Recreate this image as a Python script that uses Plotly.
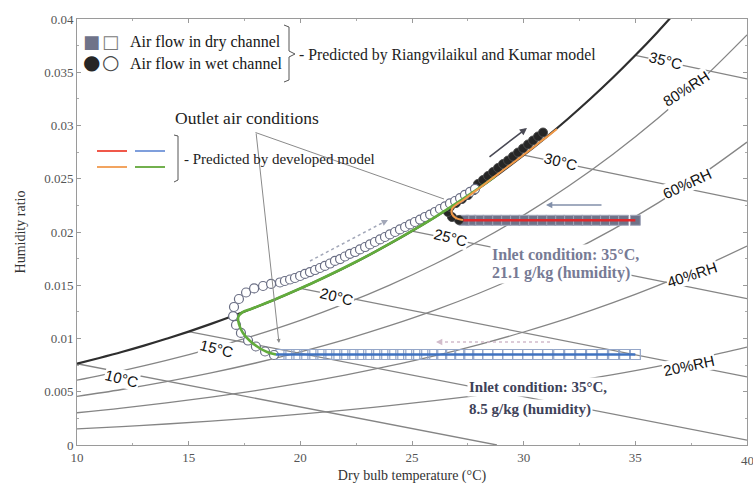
import plotly.graph_objects as go

# ---------------- psychrometric background data ----------------
T_sat = [10, 11, 12, 13, 14, 15, 16, 17, 18, 19, 20, 21, 22, 23, 24, 25, 26, 27, 28, 29, 30,
         31, 32, 33, 34, 35, 36, 37]
W_sat = [0.00763, 0.00817, 0.00873, 0.00933, 0.00997, 0.01065, 0.01137, 0.01213, 0.01294,
         0.01379, 0.01470, 0.01566, 0.01667, 0.01775, 0.01889, 0.02009, 0.02136, 0.02270,
         0.02412, 0.02563, 0.02721, 0.02889, 0.03066, 0.03253, 0.03450, 0.03659, 0.03879, 0.04111]

T_rh = [10, 12, 14, 16, 18, 20, 22, 24, 26, 28, 30, 32, 34, 36, 38, 40]
RH80 = [0.00609, 0.00697, 0.00795, 0.00906, 0.01031, 0.01170, 0.01327, 0.01502, 0.01697,
        0.01915, 0.02158, 0.02429, 0.02730, 0.03065, 0.03437, 0.03851]
RH60 = [0.00456, 0.00521, 0.00595, 0.00677, 0.00770, 0.00874, 0.00990, 0.01120, 0.01264,
        0.01425, 0.01605, 0.01804, 0.02025, 0.02271, 0.02543, 0.02844]
RH40 = [0.00303, 0.00346, 0.00395, 0.00450, 0.00511, 0.00580, 0.00656, 0.00742, 0.00837,
        0.00943, 0.01061, 0.01191, 0.01336, 0.01496, 0.01673, 0.01868]
RH20 = [0.00151, 0.00173, 0.00197, 0.00224, 0.00255, 0.00289, 0.00327, 0.00369, 0.00416,
        0.00468, 0.00526, 0.00590, 0.00661, 0.00739, 0.00825, 0.00920]

WB_temps = [10, 15, 20, 25, 30, 35]
WB_start_w = [0.00763, 0.01065, 0.01470, 0.02009, 0.02721, 0.03659]
WB_end_T = [28.8, 40, 40, 40, 40, 40]
WB_end_w = [0.0, 0.00045, 0.0064, 0.01375, 0.0229, 0.03438]

# ---------------- Riangvilaikul & Kumar model (markers) ----------------
# Case 1 : inlet 35 C, 21.1 g/kg
dry1_T = [35.00, 34.47, 34.03, 33.62, 33.22, 32.82, 32.42, 32.01, 31.61, 31.21, 30.81,
          30.40, 30.00, 29.60, 29.19, 28.79, 28.39, 27.99, 27.63, 27.32]
dry1_w = [0.0211] * len(dry1_T)
wet1_T = [27.10, 26.79, 26.61, 26.70, 26.97, 27.24, 27.51, 27.78, 27.955, 28.179, 28.403,
          28.627, 28.851, 29.075, 29.299, 29.522, 29.746, 29.970, 30.194, 30.418, 30.642, 30.866]
wet1_w = [0.02113, 0.02141, 0.02188, 0.02235, 0.02272, 0.02310, 0.02347, 0.02394, 0.02451,
          0.02488, 0.02526, 0.02563, 0.02601, 0.02638, 0.02671, 0.02709, 0.02746, 0.02784,
          0.02822, 0.02859, 0.02897, 0.02934]

# Case 2 : inlet 35 C, 8.5 g/kg
dry2_T = [35.00, 34.52, 34.03, 33.53, 33.04, 32.55, 32.06, 31.57, 31.07, 30.63, 30.18, 29.73,
          29.28, 28.84, 28.39, 27.94, 27.54, 27.14, 26.73, 26.33, 25.93, 25.57, 25.21, 24.85,
          24.50, 24.14, 23.78, 23.42, 23.06, 22.71, 22.35, 21.99, 21.63, 21.28, 20.92, 20.56,
          20.20, 19.84, 19.49, 19.13]
dry2_w = [0.0085] * len(dry2_T)
wet2_T = [18.82, 18.42, 18.01, 17.66, 17.34, 17.12, 16.99, 17.03, 17.25, 17.57, 17.93, 18.33,
          18.69, 19.09, 19.31, 19.54, 19.76, 19.99, 20.21, 20.43, 20.66, 20.88, 21.10, 21.33,
          21.55, 21.78, 22.00, 22.22, 22.45, 22.67, 22.90, 23.12, 23.34, 23.57, 23.79, 24.01,
          24.24, 24.46, 24.69, 24.91, 25.13, 25.36, 25.58, 25.81, 26.03, 26.25, 26.48, 26.70,
          26.93, 27.15, 27.37, 27.60, 27.82]
wet2_w = [0.00845, 0.00878, 0.00925, 0.00981, 0.01052, 0.01127, 0.01211, 0.01296, 0.01371,
          0.01432, 0.01470, 0.01493, 0.01512, 0.01526, 0.01540, 0.01554, 0.01568, 0.01587,
          0.01606, 0.01624, 0.01643, 0.01662, 0.01681, 0.01704, 0.01728, 0.01746, 0.01770,
          0.01794, 0.01812, 0.01836, 0.01859, 0.01883, 0.01906, 0.01930, 0.01953, 0.01977,
          0.02000, 0.02024, 0.02047, 0.02071, 0.02094, 0.02117, 0.02141, 0.02164, 0.02188,
          0.02216, 0.02240, 0.02268, 0.02291, 0.02319, 0.02348, 0.02376, 0.02404]

# ---------------- developed model (lines) ----------------
red_T = [27.3, 35.0]
red_w = [0.0211, 0.0211]
blue_T = [18.9, 35.0]
blue_w = [0.0085, 0.0085]
orange_T = [27.28, 26.97, 26.79, 26.79, 26.97, 27.24, 27.60, 27.96, 28.49, 28.94, 29.39,
            29.84, 30.28, 30.73, 31.18, 31.49]
orange_w = [0.02113, 0.02131, 0.02169, 0.02216, 0.02254, 0.02291, 0.02347, 0.02404, 0.02488,
            0.02559, 0.02629, 0.02700, 0.02770, 0.02845, 0.02916, 0.02967]
green_T = [18.91, 18.51, 18.10, 17.75, 17.43, 17.25, 17.22, 17.40, 17.79, 18.28, 18.91, 19.76,
           20.66, 21.55, 22.45, 23.34, 24.24, 25.13, 26.03, 26.93, 27.60, 28.27, 28.72]
green_w = [0.0085, 0.00873, 0.00920, 0.00977, 0.01052, 0.01136, 0.01200, 0.01245, 0.01277,
           0.01318, 0.01371, 0.01448, 0.01533, 0.01622, 0.01716, 0.01814, 0.01918, 0.02026,
           0.02140, 0.02261, 0.02355, 0.02453, 0.02521]

# ---------------- layout helpers (pixel -> axis coords for decorations) ----------------
def X(px):
    return 10 + (px - 77) * 30.0 / 670.0


def Y(py):
    return (445 - py) * 0.04 / 426.0


GRID = '#858585'
SERIF = 'Liberation Serif'
SANS = 'Liberation Sans'

fig = go.Figure()

for w in (RH80, RH60, RH40, RH20):
    fig.add_trace(go.Scatter(x=T_rh, y=w, mode='lines', line=dict(color=GRID, width=1.3),
                             line_shape='spline', hoverinfo='skip', showlegend=False))
for t0, w0, t1, w1 in zip(WB_temps, WB_start_w, WB_end_T, WB_end_w):
    fig.add_trace(go.Scatter(x=[t0, t1], y=[w0, w1], mode='lines',
                             line=dict(color=GRID, width=1.3), hoverinfo='skip', showlegend=False))
fig.add_trace(go.Scatter(x=T_sat, y=W_sat, mode='lines', line=dict(color='#2e2e2e', width=2.2),
                         line_shape='spline', hoverinfo='skip', showlegend=False))

# markers
fig.add_trace(go.Scatter(x=dry2_T, y=dry2_w, mode='markers', showlegend=False,
                         marker=dict(symbol='square-open', size=10, color='#94a6c8',
                                     line=dict(width=1.2))))
fig.add_trace(go.Scatter(x=dry1_T, y=dry1_w, mode='markers', showlegend=False,
                         marker=dict(symbol='square', size=10, color='#6f7389',
                                     line=dict(color='#a3a7ba', width=1))))
fig.add_trace(go.Scatter(x=wet1_T, y=wet1_w, mode='markers', showlegend=False,
                         marker=dict(symbol='circle', size=9, color='#262626',
                                     line=dict(color='#4a4a4a', width=1))))
fig.add_trace(go.Scatter(x=wet2_T, y=wet2_w, mode='markers', showlegend=False,
                         marker=dict(symbol='circle', size=9, color='white',
                                     line=dict(color='#6a6e84', width=1.2))))

# developed model lines
fig.add_trace(go.Scatter(x=blue_T, y=blue_w, mode='lines', line=dict(color='#3f72c0', width=2.5),
                         showlegend=False))
fig.add_trace(go.Scatter(x=red_T, y=red_w, mode='lines', line=dict(color='#e0282c', width=2.5),
                         showlegend=False))
fig.add_trace(go.Scatter(x=green_T, y=green_w, mode='lines', line=dict(color='#62ac3c', width=2.6),
                         line_shape='spline', showlegend=False))
fig.add_trace(go.Scatter(x=orange_T, y=orange_w, mode='lines', line=dict(color='#f29a48', width=2),
                         line_shape='spline', showlegend=False))

ann = []
shapes = []

# wet-bulb labels
wb_lab = [(122, 378), (217, 348), (337, 296), (451, 237), (561, 161), (666, 60)]
for t, (px, py) in zip(WB_temps, wb_lab):
    ann.append(dict(x=X(px), y=Y(py), text=f'{t}°C', showarrow=False, textangle=14,
                    font=dict(family=SANS, size=15, color='#111'), bgcolor='white',
                    borderpad=0, xanchor='center', yanchor='middle'))
# RH labels
for txt, px, py, ang in [('80%RH', 686, 88, -33), ('60%RH', 687, 183, -25),
                         ('40%RH', 692, 274, -18), ('20%RH', 689, 365, -12)]:
    ann.append(dict(x=X(px), y=Y(py), text=txt, showarrow=False, textangle=ang,
                    font=dict(family=SANS, size=15, color='#111'), bgcolor='white',
                    borderpad=0, xanchor='center', yanchor='middle'))

# inlet condition texts
ann.append(dict(x=X(490), y=Y(254), text='<b>Inlet condition: 35°C,</b>', showarrow=False,
                xanchor='left', yanchor='middle', bgcolor='white', borderpad=1,
                font=dict(family=SERIF, size=16, color='#777b95')))
ann.append(dict(x=X(490), y=Y(273), text='<b>21.1 g/kg (humidity)</b>', showarrow=False,
                xanchor='left', yanchor='middle', bgcolor='white', borderpad=1,
                font=dict(family=SERIF, size=16, color='#777b95')))
ann.append(dict(x=X(467), y=Y(387), text='<b>Inlet condition: 35°C,</b>', showarrow=False,
                xanchor='left', yanchor='middle', bgcolor='white', borderpad=1,
                font=dict(family=SERIF, size=15, color='#3e4259')))
ann.append(dict(x=X(467), y=Y(409), text='<b>8.5 g/kg (humidity)</b>', showarrow=False,
                xanchor='left', yanchor='middle', bgcolor='white', borderpad=1,
                font=dict(family=SERIF, size=15, color='#3e4259')))

# outlet air conditions
ann.append(dict(x=X(247), y=Y(118), text='Outlet air conditions', showarrow=False,
                xanchor='center', yanchor='middle', bgcolor='white',
                font=dict(family=SERIF, size=17.5, color='#222')))
ann.append(dict(x=X(279), y=Y(343), ax=X(256), ay=Y(132), axref='x', ayref='y', xref='x',
                yref='y', text='', showarrow=True, arrowhead=2, arrowsize=0.8, arrowwidth=1,
                arrowcolor='#8a8a8a'))
ann.append(dict(x=X(444), y=Y(199), ax=X(254), ay=Y(132), axref='x', ayref='y', xref='x',
                yref='y', text='', showarrow=True, arrowhead=0, arrowwidth=1,
                arrowcolor='#8a8a8a'))

# flow direction arrows
ann.append(dict(x=X(527), y=Y(128), ax=X(488), ay=Y(158), axref='x', ayref='y', text='',
                showarrow=True, arrowhead=2, arrowsize=0.9, arrowwidth=1.6, arrowcolor='#4a4a55'))
ann.append(dict(x=X(546), y=Y(205), ax=X(603), ay=Y(205), axref='x', ayref='y', text='',
                showarrow=True, arrowhead=2, arrowsize=0.9, arrowwidth=1.4, arrowcolor='#8290aa'))
# dashed arrows (dashed shaft + arrowhead)
shapes.append(dict(type='line', xref='x', yref='y', x0=X(310), y0=Y(261), x1=X(384), y1=Y(222),
                   line=dict(color='#a2a7b8', width=1.5, dash='dot')))
ann.append(dict(x=X(388), y=Y(220), ax=-6, ay=3, text='', showarrow=True, arrowhead=2,
                arrowsize=0.9, arrowwidth=1.4, arrowcolor='#a2a7b8'))
shapes.append(dict(type='line', xref='x', yref='y', x0=X(550), y0=Y(342), x1=X(441), y1=Y(342),
                   line=dict(color='#d2bccb', width=1.5, dash='dot')))
ann.append(dict(x=X(436), y=Y(342), ax=7, ay=0, text='', showarrow=True, arrowhead=2,
                arrowsize=0.9, arrowwidth=1.4, arrowcolor='#d2bccb'))

# legend (top-left) for R&K model
sym = [('■', 91, 41, '#6f7389', 18), ('□', 110, 41, '#7a7a7a', 18),
       ('●', 91, 62, '#262626', 20), ('○', 110, 62, '#4a4a4a', 20)]
for ch, px, py, col, sz in sym:
    ann.append(dict(x=X(px), y=Y(py), text=ch, showarrow=False, xanchor='center',
                    yanchor='middle', font=dict(family='DejaVu Sans', size=sz, color=col)))
ann.append(dict(x=X(128), y=Y(42), text='Air flow in dry channel', showarrow=False,
                xanchor='left', yanchor='middle', font=dict(family=SERIF, size=16, color='#151515')))
ann.append(dict(x=X(128), y=Y(63), text='Air flow in wet channel', showarrow=False,
                xanchor='left', yanchor='middle', font=dict(family=SERIF, size=16, color='#151515')))


def path(pts):
    return 'M ' + ' L '.join(f'{X(a)},{Y(b)}' for a, b in pts)


shapes.append(dict(type='path', xref='x', yref='y',
                   path=path([(284, 25), (289, 27), (289, 51), (295, 54), (289, 57), (289, 80),
                              (284, 82)]),
                   line=dict(color='#555', width=1)))
ann.append(dict(x=X(297), y=Y(55), text='- Predicted by Riangvilaikul and Kumar model',
                showarrow=False, xanchor='left', yanchor='middle',
                font=dict(family=SERIF, size=15.8, color='#222')))

# legend for developed model
for (x0, x1, py, col) in [(97, 127, 151, '#f0584a'), (135, 165, 151, '#7f9fdc'),
                          (97, 127, 167, '#f2a460'), (135, 165, 167, '#72b04e')]:
    shapes.append(dict(type='line', xref='x', yref='y', x0=X(x0), x1=X(x1), y0=Y(py), y1=Y(py),
                       line=dict(color=col, width=2)))
shapes.append(dict(type='path', xref='x', yref='y',
                   path=path([(174, 135), (178, 136), (178, 180), (174, 182)]),
                   line=dict(color='#555', width=1)))
ann.append(dict(x=X(182), y=Y(159), text='- Predicted by developed model', showarrow=False,
                xanchor='left', yanchor='middle', font=dict(family=SERIF, size=15, color='#222')))

# last x tick label (partly outside the page, as in the original)
ann.append(dict(x=40, y=0, xref='x', yref='y', yshift=-15, text='40', showarrow=False,
                xanchor='center', yanchor='middle',
                font=dict(family=SERIF, size=13, color='#555')))

axis_font = dict(family=SERIF, size=13, color='#555')
fig.update_layout(
    width=753, height=494,
    margin=dict(l=77, r=6, t=19, b=49),
    paper_bgcolor='white', plot_bgcolor='white',
    annotations=ann, shapes=shapes,
    xaxis=dict(range=[10, 40], tickvals=[10, 15, 20, 25, 30, 35], showgrid=False,
               zeroline=False, showline=True, linecolor='#9a9a9a', linewidth=1, mirror='ticks',
               ticks='inside', ticklen=4, tickcolor='#9a9a9a',
               minor=dict(ticks='inside', ticklen=2, dtick=2.5, tickcolor='#aaa'),
               tickfont=axis_font,
               title=dict(text='Dry bulb temperature (°C)', standoff=6,
                          font=dict(family=SERIF, size=14, color='#333'))),
    yaxis=dict(range=[0, 0.04], dtick=0.005, showgrid=False, zeroline=False, showline=True,
               linecolor='#9a9a9a', linewidth=1, mirror='ticks', ticks='inside', ticklen=4,
               tickcolor='#9a9a9a', minor=dict(ticks='inside', ticklen=2, dtick=0.0025,
                                                tickcolor='#aaa'),
               tickfont=axis_font,
               title=dict(text='Humidity ratio', standoff=15,
                          font=dict(family=SERIF, size=14, color='#333'))),
)

fig.write_html('out.html')
